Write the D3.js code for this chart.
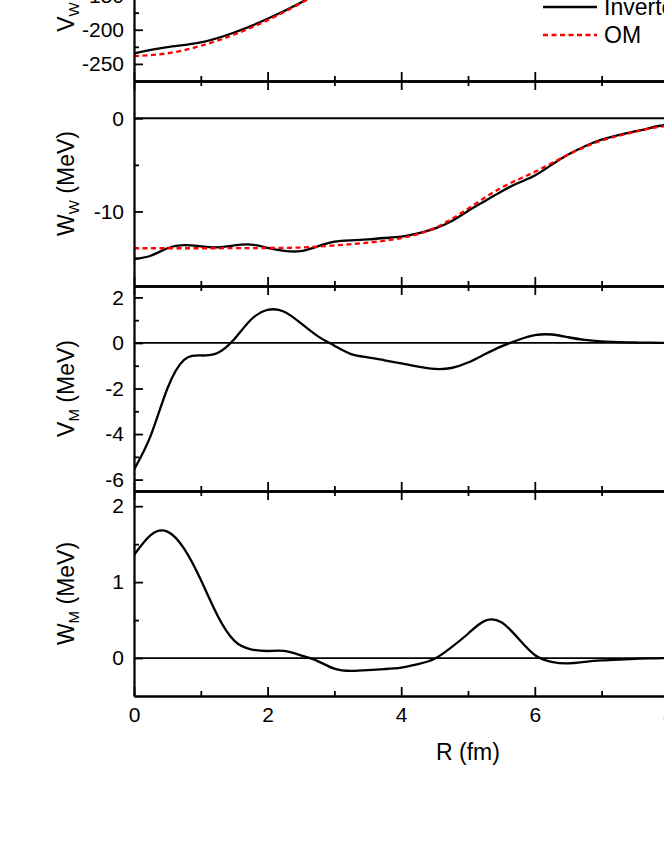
<!DOCTYPE html>
<html>
<head>
<meta charset="utf-8">
<script src="https://cdn.jsdelivr.net/npm/d3@7"></script>
<style>
  body { margin: 0; background: #fff; }
  svg { display: block; font-family: "Liberation Sans", Arial, sans-serif; }
  .axis path, .axis line { stroke: #000; stroke-width: 1.8; }
  .axis text { font-size: 21px; fill: #000; font-family: "Liberation Sans", Arial, sans-serif; }
</style>
</head>
<body>
<svg width="664" height="860"></svg>
<script>
// V_W (real central part)
const vwR        = [0, 0.5, 1, 1.5, 2, 2.5, 3, 3.5, 4, 4.5, 5, 5.5, 6, 6.5, 7, 7.5, 8, 9, 10];
const vwInverted = [-234.5, -225.5, -218.5, -204, -184, -160, -133, -105, -78, -55, -37, -24, -15, -9, -5, -3, -2, -0.5, 0];
const vwOM       = [-238.5, -234.5, -223.5, -207, -186, -161, -134, -106, -79, -56, -38, -25, -15.5, -9, -5, -3, -2, -0.5, 0];

// shared radius grid for the other curves
const rGrid = [0, 0.25, 0.5, 0.75, 1, 1.25, 1.5, 1.75, 2, 2.25, 2.5, 2.75, 3, 3.25, 3.5, 3.75,
               4, 4.25, 4.5, 4.75, 5, 5.25, 5.5, 5.75, 6, 6.25, 6.5, 6.75, 7, 7.25, 7.5, 7.75, 8, 9, 10];

// W_W (imaginary central part)
const wwInverted = [-15.1, -14.75, -13.95, -13.62, -13.75, -13.85, -13.65, -13.55, -13.9, -14.22, -14.25, -13.75,
                    -13.25, -13.1, -13.0, -12.85, -12.7, -12.35, -11.85, -11.05, -9.95, -8.9, -7.85, -6.95,
                    -6.15, -5.0, -3.9, -3.0, -2.3, -1.8, -1.4, -1.0, -0.7, -0.18, -0.05];
const wwOmR = [0, 0.5, 1, 1.5, 2, 2.5, 3, 3.5, 4, 4.5, 5, 5.5, 6, 6.5, 7, 7.5, 8, 9, 10];
const wwOM  = [-13.95, -13.95, -13.95, -13.94, -13.92, -13.87, -13.65, -13.35, -12.86, -11.78, -9.7, -7.45,
               -5.75, -3.9, -2.4, -1.45, -0.8, -0.2, -0.05];

// V_M
const vm = [-5.56, -4.07, -2.0, -0.74, -0.55, -0.44, 0.16, 1.02, 1.45, 1.37, 0.86, 0.3,
            -0.12, -0.49, -0.63, -0.76, -0.9, -1.04, -1.14, -1.1, -0.86, -0.5, -0.15, 0.13,
            0.34, 0.37, 0.25, 0.13, 0.07, 0.04, 0.02, 0.01, 0, 0, 0];

// W_M
const wm = [1.357, 1.62, 1.665, 1.44, 1.03, 0.56, 0.23, 0.115, 0.093, 0.093, 0.035, -0.04,
            -0.14, -0.17, -0.16, -0.145, -0.125, -0.08, -0.01, 0.14, 0.32, 0.49, 0.47, 0.26,
            0.04, -0.05, -0.07, -0.05, -0.03, -0.02, -0.01, -0.005, 0, 0, 0];

// ticks
const rTicks      = [0, 2, 4, 6, 8, 10];
const rMinorTicks = [1, 3, 5, 7, 9];
const vwTicks = [-250, -200, -150, -100, -50, 0];
const vwMinor = [-275, -225, -175, -125, -75, -25, 25];
const wwTicks = [-10, 0];
const wwMinor = [-15, -5];
const vmTicks = [-6, -4, -2, 0, 2];
const vmMinor = [-5, -3, -1, 1];
const wmTicks = [0, 1, 2];
const wmMinor = [0.5, 1.5];

const legendLabels = ['Inverted', 'OM'];
const xLabel = 'R (fm)';

const margin = { left: 134, top: -124 };
const innerWidth = 668;
const panelHeight = 205;

const svg = d3.select('svg');
const xScale = d3.scaleLinear().domain([0, 10]).range([0, innerWidth]);
const fmt = d => String(d);   // plain hyphen, no trailing .0

const solid = { stroke: '#000', dash: null };
const dashed = { stroke: '#ff0000', dash: '5,3.5' };

const panels = [
  { name: 'V', sub: 'W', domain: [-275, 25], ticks: vwTicks, minor: vwMinor, zero: false,
    curves: [[vwR, vwInverted, solid], [vwR, vwOM, dashed]] },
  { name: 'W', sub: 'W', domain: [-18, 4], ticks: wwTicks, minor: wwMinor, zero: true,
    curves: [[rGrid, wwInverted, solid], [wwOmR, wwOM, dashed]] },
  { name: 'V', sub: 'M', domain: [-6.5, 2.5], ticks: vmTicks, minor: vmMinor, zero: true,
    curves: [[rGrid, vm, solid]] },
  { name: 'W', sub: 'M', domain: [-0.5, 2.2], ticks: wmTicks, minor: wmMinor, zero: true,
    curves: [[rGrid, wm, solid]] }
];

panels.forEach((p, i) => {
  const top = margin.top + i * panelHeight;
  const g = svg.append('g')
      .attr('transform', `translate(${margin.left},${top})`);
  const yScale = d3.scaleLinear().domain(p.domain).range([panelHeight, 0]);

  g.append('clipPath').attr('id', 'clip' + i)
    .append('rect')
      .attr('width', innerWidth)
      .attr('height', panelHeight);

  if (p.zero) {
    g.append('line')
      .attr('x1', 0).attr('x2', innerWidth)
      .attr('y1', yScale(0)).attr('y2', yScale(0))
      .attr('stroke', '#000')
      .attr('stroke-width', 1.8);
  }

  const line = d3.line()
    .x(d => xScale(d[0]))
    .y(d => yScale(d[1]))
    .curve(d3.curveNatural);

  // black first, red dashed on top
  p.curves.forEach(c => {
    const pts = c[0].map((r, k) => [r, c[1][k]]);
    g.append('path')
      .attr('clip-path', `url(#clip${i})`)
      .attr('d', line(pts))
      .attr('fill', 'none')
      .attr('stroke', c[2].stroke)
      .attr('stroke-width', 2.3)
      .attr('stroke-dasharray', c[2].dash);
  });

  // frame + inward ticks
  const isLast = i === panels.length - 1;
  const bottomAxis = d3.axisBottom(xScale).tickValues(rTicks).tickSize(-9).tickSizeOuter(0).tickPadding(11).tickFormat(fmt);
  if (!isLast) bottomAxis.tickFormat('');
  g.append('g').attr('class', 'axis').attr('transform', `translate(0,${panelHeight})`).call(bottomAxis);
  g.append('g').attr('class', 'axis').attr('transform', `translate(0,${panelHeight})`)
    .call(d3.axisBottom(xScale).tickValues(rMinorTicks).tickSize(-5).tickSizeOuter(0).tickFormat(''));

  g.append('g').attr('class', 'axis')
    .call(d3.axisTop(xScale).tickValues(rTicks).tickSize(-9).tickSizeOuter(0).tickFormat(''));
  g.append('g').attr('class', 'axis')
    .call(d3.axisTop(xScale).tickValues(rMinorTicks).tickSize(-5).tickSizeOuter(0).tickFormat(''));

  g.append('g').attr('class', 'axis')
    .call(d3.axisLeft(yScale).tickValues(p.ticks).tickSize(-9).tickSizeOuter(0).tickPadding(10).tickFormat(fmt));
  g.append('g').attr('class', 'axis')
    .call(d3.axisLeft(yScale).tickValues(p.minor).tickSize(-5).tickSizeOuter(0).tickFormat(''));

  g.append('g').attr('class', 'axis').attr('transform', `translate(${innerWidth},0)`)
    .call(d3.axisRight(yScale).tickValues(p.ticks).tickSize(-9).tickSizeOuter(0).tickFormat(''));

  // y label with subscript
  const label = svg.append('text')
      .attr('transform', `translate(74,${top + panelHeight / 2 + (i === 0 ? 4 : 0)}) rotate(-90)`)
      .attr('text-anchor', 'middle')
      .style('font-size', '23px');
  label.append('tspan').text(p.name);
  label.append('tspan').attr('dy', 5).style('font-size', '15px').text(p.sub);
  label.append('tspan').attr('dy', -5).text(' (MeV)');
});

svg.append('text')
    .attr('x', margin.left + xScale(5))
    .attr('y', 760)
    .attr('text-anchor', 'middle')
    .style('font-size', '23px')
    .text(xLabel);

// legend (top right of the first panel)
const legend = svg.append('g').attr('transform', 'translate(543,0)');
[solid, dashed].forEach((s, k) => {
  const y = 7 + k * 28;
  legend.append('line')
    .attr('x1', 0).attr('x2', 54)
    .attr('y1', y).attr('y2', y)
    .attr('stroke', s.stroke)
    .attr('stroke-width', 2.3)
    .attr('stroke-dasharray', s.dash);
  legend.append('text')
    .attr('x', 61)
    .attr('y', y + 8)
    .style('font-size', '23px')
    .text(legendLabels[k]);
});
</script>
</body>
</html>
